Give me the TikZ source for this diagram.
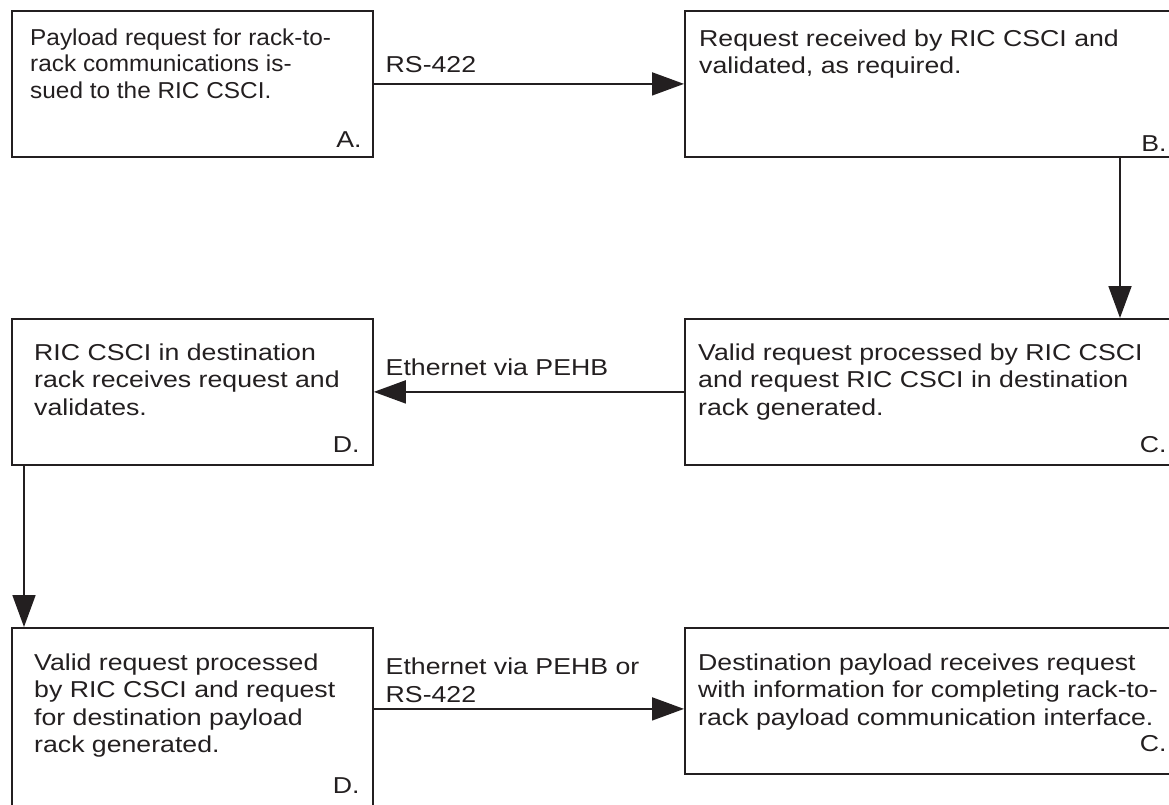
\documentclass[tikz,border=0pt]{standalone}
\usepackage{fontspec}
\setmainfont{Liberation Sans}[FakeStretch = 1.16]
\newfontfamily\narrowSans{Liberation Sans}[FakeStretch = 1.06]
\usetikzlibrary{arrows.meta}
\definecolor{ink}{HTML}{231F20}

\begin{document}
\begin{tikzpicture}[x = 1pt, y = -1pt, color = ink]
	\tikzstyle{stepBox} = [draw, line width = 1.8pt, rectangle, anchor = north west, inner sep = 0pt, minimum height = 146pt]
	\tikzstyle{leftBox} = [stepBox, minimum width = 361pt]
	\tikzstyle{rightBox} = [stepBox, minimum width = 493pt]
	\tikzstyle{bodyText} = [anchor = north west, inner sep = 0pt, align = left, font = \fontsize{23}{27.5}\selectfont]
	\tikzstyle{tagText} = [anchor = base east, inner sep = 0pt, font = \fontsize{23}{27.5}\selectfont]
	\tikzstyle{linkText} = [anchor = base west, inner sep = 0pt, align = left, font = \fontsize{23}{28.5}\selectfont]
	\tikzstyle{flow} = [line width = 1.8pt, -{Triangle[length = 32pt, width = 23pt]}]
	\useasboundingbox (0, 0) rectangle (1169, 804);
	% boxes
	\node[leftBox] (a) at (11, 10) {};
	\node[rightBox] (b) at (684, 10) {};
	\node[rightBox] (c) at (684, 318) {};
	\node[leftBox] (d) at (11, 318) {};
	\node[leftBox, minimum height = 190pt] (e) at (11, 627) {};
	\node[rightBox] (f) at (684, 627) {};
	% box texts
	\node[bodyText, font = \narrowSans\fontsize{23}{26.5}\selectfont] (aText) at ([shift = {(19pt, -18.3pt)}]a.north west) {Payload request for rack-to-\\rack communications is-\\sued to the RIC CSCI.};
	\node[bodyText] (bText) at ([shift = {(15pt, -19.3pt)}]b.north west) {Request received by RIC CSCI and\\validated, as required.};
	\node[bodyText] (cText) at ([shift = {(14pt, -25.3pt)}]c.north west) {Valid request processed by RIC CSCI\\and request RIC CSCI in destination\\rack generated.};
	\node[bodyText] (dText) at ([shift = {(23pt, -25.3pt)}]d.north west) {RIC CSCI in destination\\rack receives request and\\validates.};
	\node[bodyText] (eText) at ([shift = {(23pt, -26.3pt)}]e.north west) {Valid request processed\\by RIC CSCI and request\\for destination payload\\rack generated.};
	\node[bodyText] (fText) at ([shift = {(14pt, -26.3pt)}]f.north west) {Destination payload receives request\\with information for completing rack-to-\\rack payload communication interface.};
	% letters
	\node[tagText] (aTag) at ([shift = {(-12pt, 10pt)}]a.south east) {A.};
	\node[tagText] (bTag) at ([shift = {(-12pt, 6pt)}]b.south east) {B.};
	\node[tagText] (cTag) at ([shift = {(-12pt, 13pt)}]c.south east) {C.};
	\node[tagText] (dTag) at ([shift = {(-14pt, 13pt)}]d.south east) {D.};
	\node[tagText] (eTag) at ([shift = {(-14pt, 25pt)}]e.south east) {D.};
	\node[tagText] (fTag) at ([shift = {(-12pt, 23pt)}]f.south east) {C.};
	% connectors
	\path ([yshift = -8pt]f.west) coordinate (fIn);
	\draw[flow] (a.east) -- (b.west) node[linkText, pos = 0, xshift = 11pt, yshift = 11pt] {RS-422};
	\draw[flow] ([xshift = 436pt]b.south west) -- ([xshift = 436pt]c.north west);
	\draw[flow] (c.west) -- (d.east) node[linkText, pos = 1, xshift = 11pt, yshift = 16pt] {Ethernet via PEHB};
	\draw[flow] ([xshift = 13pt]d.south west) -- ([xshift = 13pt]e.north west);
	\draw[flow] (e.east |- fIn) -- (fIn) node[linkText, pos = 0, xshift = 11pt, yshift = 6pt] {Ethernet via PEHB or\\RS-422};
\end{tikzpicture}
\end{document}
